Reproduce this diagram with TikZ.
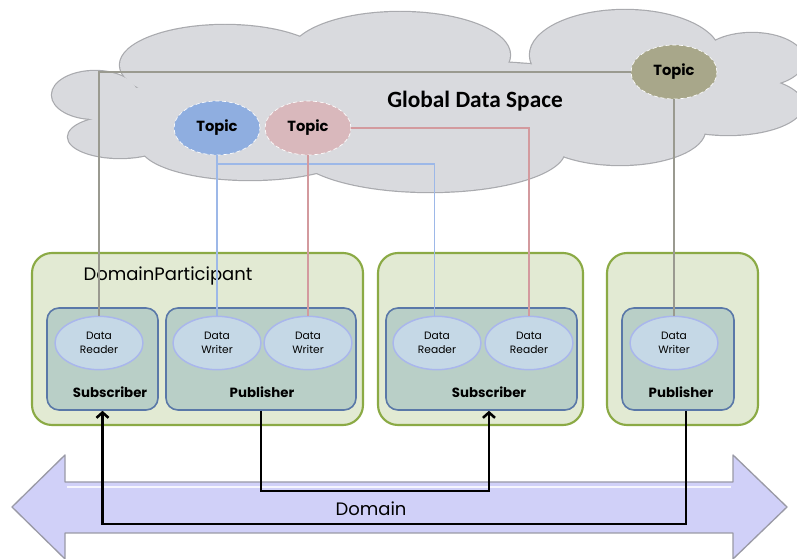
\documentclass[tikz,border=0pt]{standalone}
\usepackage{fontspec}
\setmainfont{Carlito}
\newfontfamily\gothic{Poppins}
\usetikzlibrary{shapes.geometric,fit,arrows.meta}

\definecolor{cloudfill}{HTML}{D9DADE}
\definecolor{cloudline}{HTML}{A9AAAE}
\definecolor{graycon}{HTML}{9A9A90}
\definecolor{bluecon}{HTML}{9DB8E8}
\definecolor{pinkcon}{HTML}{D39A9E}
\definecolor{topicblue}{HTML}{8FAEE0}
\definecolor{topicpink}{HTML}{D9B8BC}
\definecolor{topicolive}{HTML}{A8A78A}
\definecolor{gfill}{HTML}{E2EAD3}
\definecolor{gborder}{HTML}{8BAA45}
\definecolor{ifill}{HTML}{B9CFC7}
\definecolor{iborder}{HTML}{5A78A8}
\definecolor{efill}{HTML}{C5D8E6}
\definecolor{eborder}{HTML}{A9B6EC}
\definecolor{domfill}{HTML}{D0D0F8}
\definecolor{domline}{HTML}{9A9AA6}

\tikzset{
  topic/.style={ellipse, draw=white, line width=0.5pt, densely dashed,
    minimum width=64.5pt, minimum height=40.5pt, inner sep=0pt,
    font=\gothic\bfseries\fontsize{11}{12}\selectfont},
  gbox/.style={draw=gborder, fill=gfill, line width=1.6pt, rounded corners=15pt, inner sep=0pt},
  ibox/.style={draw=iborder, fill=ifill, line width=1.2pt, rounded corners=9pt, inner sep=0pt},
  dnode/.style={ellipse, draw=eborder, fill=efill, line width=1.1pt,
    minimum width=66pt, minimum height=40pt, inner sep=0pt, align=center,
    font=\gothic\fontsize{8}{10}\selectfont},
  lbl/.style={inner sep=0pt, font=\gothic\bfseries\fontsize{10}{12}\selectfont},
  con/.style={line width=0.8pt},
  bk/.style={line width=1.9pt, black},
}

\begin{document}
\begin{tikzpicture}[x=0.75pt,y=-0.75pt]
\useasboundingbox (0,0) rectangle (797,559);
\clip (0,0) rectangle (797,559);

% cloud: outline first, then the fill hides the inner seams
\def\lobes{95/95/43/24, 120/137/52/21, 225/65/105/40, 400/55/110/43,
  625/55/95/45, 752/60/52/27, 728/105/75/30, 620/130/85/35,
  430/150/135/42, 250/145/110/35, 420/105/260/45, 160/110/50/25}
\foreach \cx/\cy/\rx/\ry in \lobes
  \path[draw=cloudline, line width=1.8pt] (\cx,\cy) ellipse [x radius=\rx, y radius=\ry];
\foreach \cx/\cy/\rx/\ry in \lobes
  \path[fill=cloudfill] (\cx,\cy) ellipse [x radius=\rx, y radius=\ry];

\node[font=\bfseries\fontsize{17.5}{20}\selectfont, inner sep=0pt] (gds) at (475,101) {Global Data Space};

% topics
\node[topic, fill=topicblue] (t1) at (217,128) {Topic};
\node[topic, fill=topicpink] (t2) at (308,128) {Topic};
\node[topic, fill=topicolive] (t3) at (674,72) {Topic};

% domain participants
\node[gbox, fit={(32,253)(363,425)}] (dp1) {};
\node[gbox, fit={(378,253)(583,425)}] (dp2) {};
\node[gbox, fit={(607,253)(758,425)}] (dp3) {};
\node[inner sep=0pt, font=\gothic\fontsize{13.5}{15}\selectfont] (dplbl) at (168,276) {DomainParticipant};

% subscribers and publishers
\node[ibox, fit={(47,308)(158,410)}] (sub1) {};
\node[ibox, fit={(166,308)(356,410)}] (pub1) {};
\node[ibox, fit={(386,308)(577,410)}] (sub2) {};
\node[ibox, fit={(622,308)(734,410)}] (pub2) {};

\node[lbl] (sub1lbl) at (110,392) {Subscriber};
\node[lbl] (pub1lbl) at (262,392) {Publisher};
\node[lbl] (sub2lbl) at (489,392) {Subscriber};
\node[lbl] (pub2lbl) at (681,392) {Publisher};

% readers and writers
\node[dnode] (dr1) at (99,343) {Data\\Reader};
\node[dnode] (dw1) at (217,343) {Data\\Writer};
\node[dnode] (dw2) at (308,343) {Data\\Writer};
\node[dnode] (dr2) at (437,343) {Data\\Reader};
\node[dnode] (dr3) at (529,343) {Data\\Reader};
\node[dnode] (dw3) at (674,343) {Data\\Writer};

% topic links
\coordinate (bj) at (217,164);
\draw[con, graycon] (dr1.north) |- (t3.west);
\draw[con, graycon] (t3.south) -- (dw3.north);
\draw[con, bluecon] (t1.south) -- (dw1.north);
\draw[con, bluecon] (bj) -| ([xshift=-2.2pt]dr2.north);
\draw[con, pinkcon] (t2.south) -- (dw2.north);
\draw[con, pinkcon] (t2.east) -| (dr3.north);

% domain bus
\path[draw=domline, line width=1pt, fill=domfill, line join=round]
  (12,507) -- (65,455) -- (65,482) -- (733,482) -- (733,455) -- (787,507)
  -- (733,559) -- (733,533) -- (65,533) -- (65,559) -- cycle;
\draw[white, line width=2pt, opacity=0.8] (67,487) -- (731,487);
\node[inner sep=0pt, font=\gothic\fontsize{13.5}{15}\selectfont] (dom) at (371,509) {Domain};

% data flow
\draw[bk, -{Straight Barb[length=4pt,width=9pt]}]
  (pub1.south) -- ++(0,80) -| ([xshift=5.6pt]sub2.south);
\draw[bk, -{Straight Barb[length=4pt,width=9pt]}]
  ([xshift=6pt]pub2.south) -- ++(0,113) -| (sub1.south);
\end{tikzpicture}
\end{document}
